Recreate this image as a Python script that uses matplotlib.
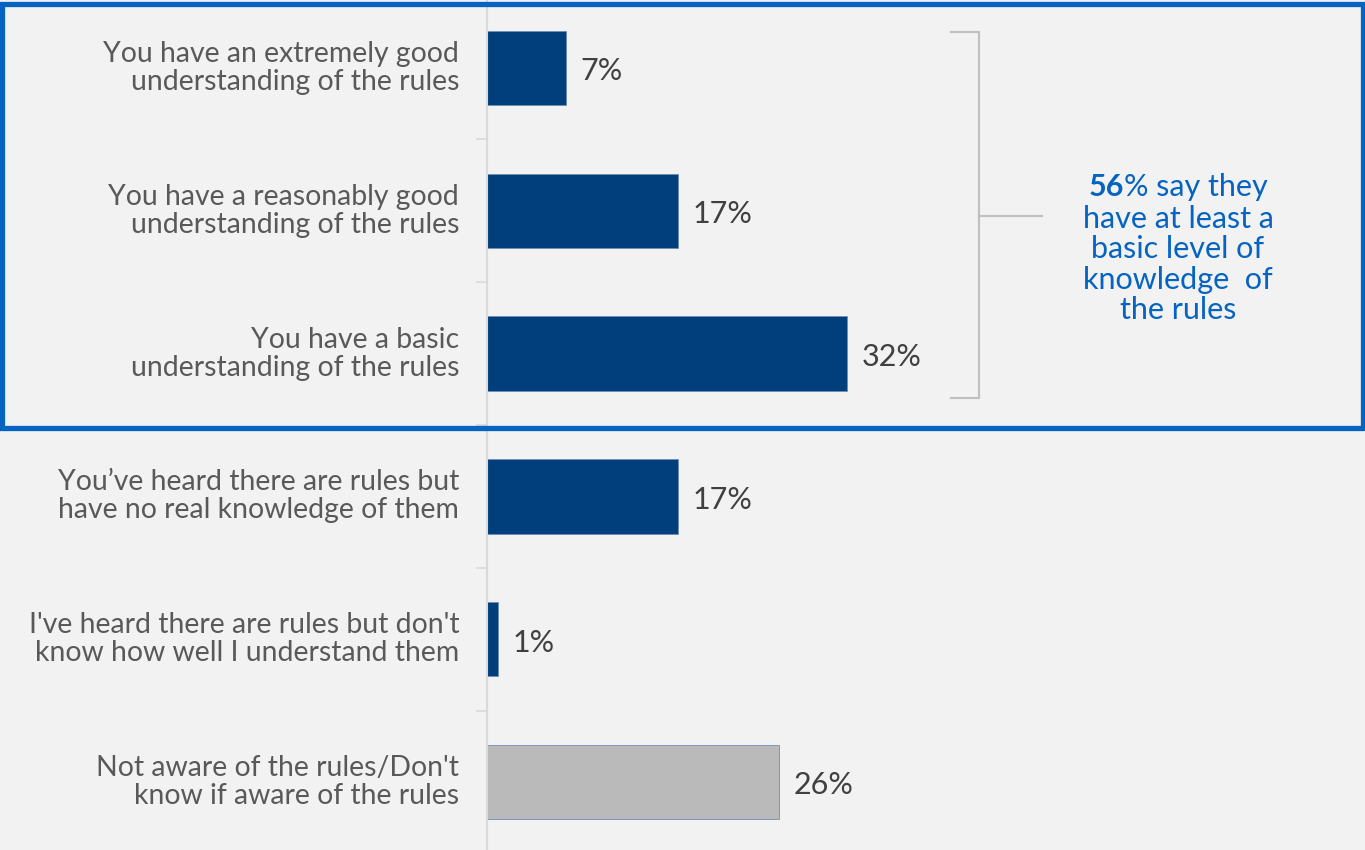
import matplotlib
matplotlib.use("Agg")
import matplotlib.pyplot as plt
from matplotlib.patches import Rectangle

plt.rcParams['font.family'] = ['Lato', 'DejaVu Sans']

categories = [
    "You have an extremely good\nunderstanding of the rules",
    "You have a reasonably good\nunderstanding of the rules",
    "You have a basic\nunderstanding of the rules",
    "You\u2019ve heard there are rules but\nhave no real knowledge of them",
    "I've heard there are rules but don't\nknow how well I understand them",
    "Not aware of the rules/Don't\nknow if aware of the rules",
]
values = [7, 17, 32, 17, 1, 26]
bar_colors = ["#003f7c", "#003f7c", "#003f7c", "#003f7c", "#003f7c", "#bababa"]

bg = "#f2f2f2"
blue = "#0563c1"

fig = plt.figure(figsize=(13.65, 8.5), dpi=100, facecolor=bg)
ax = fig.add_axes([487 / 1365, 0, 1 - 487 / 1365, 1])
ax.set_facecolor(bg)

y = list(range(len(categories)))
ax.barh(y, values, height=0.52, color=bar_colors, edgecolor="#6f8fb3", linewidth=0.6)
ax.set_ylim(5.476, -0.476)
ax.set_xlim(0, 78.1)

for i, v in enumerate(values):
    ax.annotate(f"{v}%", (v, i), xytext=(10.5, -2.5), textcoords="offset points",
                va="center", ha="left", fontsize=22, color="#404040")

ax.set_yticks(y)
ax.set_yticklabels(categories, fontsize=20.4, color="#595959", linespacing=1.1,
                   va="center")
for lbl in ax.get_yticklabels():
    lbl.set_y(lbl.get_position()[1])
ax.tick_params(axis="y", which="major", length=0, pad=20)
ax.set_yticks([i + 0.5 for i in range(5)], minor=True)
ax.tick_params(axis="y", which="minor", length=8, color="#d9d9d9", width=1.2)
ax.set_xticks([])
for s in ["top", "right", "bottom"]:
    ax.spines[s].set_visible(False)
ax.spines["left"].set_color("#d9d9d9")
ax.spines["left"].set_linewidth(1.5)

# highlight box
fig.patches.append(Rectangle((2 / 1365, 1 - 428 / 850), 1361 / 1365, 424 / 850,
                             transform=fig.transFigure, fill=False,
                             edgecolor=blue, linewidth=3.8, zorder=10))

# bracket
def fx(px):
    return px / 1365

def fy(py):
    return 1 - py / 850

gray = "#bfbfbf"
fig.add_artist(plt.Line2D([fx(951), fx(979), fx(979), fx(951)],
                          [fy(32), fy(32), fy(398), fy(398)], color=gray, lw=1.5))
fig.add_artist(plt.Line2D([fx(979), fx(1042)], [fy(216), fy(216)], color=gray, lw=1.5))

# annotation
cx = 1178
fig.canvas.draw()
r = fig.canvas.get_renderer()
t1 = fig.text(0, fy(187), "56", fontsize=22, fontweight="bold", color=blue, va="center")
t2 = fig.text(0, fy(187), "% say they", fontsize=22, color=blue, va="center")
w1 = t1.get_window_extent(r).width
w2 = t2.get_window_extent(r).width
left = cx - (w1 + w2) / 2
t1.set_x(fx(left))
t2.set_x(fx(left + w1))
fig.text(fx(cx), fy(264.5), "have at least a\nbasic level of\nknowledge  of\nthe rules",
         fontsize=22, color=blue, ha="center", va="center", linespacing=1.1)

fig.savefig("out.png", dpi=100, facecolor=bg)
